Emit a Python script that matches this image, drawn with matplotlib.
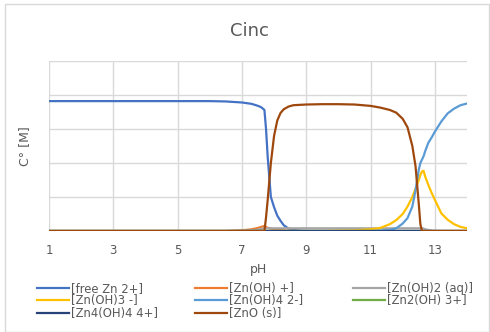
import matplotlib
matplotlib.use("Agg")
import matplotlib.pyplot as plt
from matplotlib.patches import Rectangle

# pH sample points (denser around the precipitation / dissolution edges)
ph = [1, 2, 3, 4, 5, 6, 6.5, 7, 7.3, 7.5, 7.6, 7.7, 7.75, 7.8, 7.9, 8.0, 8.1,
      8.2, 8.3, 8.45, 8.6, 8.8, 9, 9.5, 10, 10.5, 11, 11.3, 11.6, 11.8, 12.0,
      12.15, 12.3, 12.4, 12.5, 12.55, 12.6, 12.65, 12.7, 12.8, 12.9, 13.0,
      13.2, 13.4, 13.6, 13.8, 14.0]

free_zn = [3.82, 3.82, 3.82, 3.82, 3.82, 3.82, 3.81, 3.78, 3.74, 3.68, 3.64,
           3.56, 3.00, 2.20, 1.00, 0.70, 0.45, 0.30, 0.17, 0.07, 0.03, 0.01,
           0, 0, 0, 0, 0, 0, 0, 0, 0, 0, 0, 0, 0, 0, 0, 0, 0, 0, 0, 0, 0,
           0, 0, 0, 0]

zn_oh = [0, 0, 0, 0, 0, 0, 0, 0.02, 0.05, 0.09, 0.12, 0.15, 0.12, 0.09,
         0.07, 0.05, 0.04, 0.03, 0.02, 0.01, 0, 0, 0, 0, 0, 0, 0, 0, 0, 0,
         0, 0, 0, 0, 0, 0, 0, 0, 0, 0, 0, 0, 0, 0, 0, 0, 0]

zn_oh2 = [0, 0, 0, 0, 0, 0, 0, 0.01, 0.02, 0.04, 0.06, 0.08, 0.08, 0.08,
          0.08, 0.08, 0.08, 0.08, 0.08, 0.08, 0.08, 0.08, 0.08, 0.08, 0.08,
          0.08, 0.08, 0.08, 0.08, 0.08, 0.08, 0.08, 0.08, 0.08, 0.08, 0.08,
          0.08, 0.07, 0.05, 0.03, 0.01, 0, 0, 0, 0, 0, 0]

zn_oh3 = [0, 0, 0, 0, 0, 0, 0, 0, 0, 0, 0, 0, 0, 0, 0, 0, 0, 0, 0, 0, 0, 0,
          0, 0, 0.01, 0.02, 0.05, 0.09, 0.20, 0.32, 0.50, 0.72, 1.00, 1.25,
          1.50, 1.65, 1.75, 1.77, 1.60, 1.35, 1.12, 0.92, 0.52, 0.33, 0.20,
          0.12, 0.08]

zn_oh4 = [0, 0, 0, 0, 0, 0, 0, 0, 0, 0, 0, 0, 0, 0, 0, 0, 0, 0, 0, 0, 0, 0,
          0, 0, 0, 0, 0, 0.01, 0.03, 0.08, 0.22, 0.38, 0.72, 1.20, 1.80, 2.00,
          2.10, 2.20, 2.35, 2.60, 2.75, 2.92, 3.22, 3.46, 3.60, 3.70, 3.75]

zn2_oh = [0] * 47

zn4_oh4 = [0] * 47

zno_s = [0, 0, 0, 0, 0, 0, 0, 0, 0, 0, 0, 0, 0.4, 0.9, 2.0, 2.8, 3.25, 3.47,
         3.58, 3.66, 3.70, 3.71, 3.72, 3.73, 3.73, 3.72, 3.68, 3.63, 3.56,
         3.48, 3.30, 3.05, 2.50, 1.90, 0.80, 0.20, 0, 0, 0, 0, 0, 0, 0, 0, 0,
         0, 0]

labels = ["[free Zn 2+]", "[Zn(OH) +]", "[Zn(OH)2 (aq)]", "[Zn(OH)3 -]",
          "[Zn(OH)4 2-]", "[Zn2(OH) 3+]", "[Zn4(OH)4 4+]", "[ZnO (s)]"]
series = [free_zn, zn_oh, zn_oh2, zn_oh3, zn_oh4, zn2_oh, zn4_oh4, zno_s]
colors = ["#4472C4", "#ED7D31", "#A5A5A5", "#FFC000", "#5B9BD5", "#70AD47",
          "#264478", "#9E480E"]

txt = "#595959"
grid = "#D9D9D9"

fig = plt.figure(figsize=(4.9, 3.32), dpi=100)
fig.patches.append(Rectangle((5 / 490, 0), 484 / 490, 328 / 332,
                             transform=fig.transFigure, fill=False,
                             edgecolor=grid, linewidth=1))

ax = fig.add_axes([49 / 490, 101 / 332, 418 / 490, 170 / 332])
handles = []
for y, lab, c in zip(series, labels, colors):
    h, = ax.plot(ph, y, color=c, linewidth=1.6, label=lab,
                 solid_joinstyle="round")
    handles.append(h)

ax.set_xlim(1, 14)
ax.set_ylim(0, 5)
ax.set_xticks([1, 3, 5, 7, 9, 11, 13])
ax.set_yticks([0, 1, 2, 3, 4, 5])
ax.set_yticklabels([])
ax.grid(True, color=grid, linewidth=1)
ax.set_axisbelow(True)
for s in ax.spines.values():
    s.set_visible(False)
ax.tick_params(length=0, colors=txt, labelsize=8.5, pad=9)

ax.set_xlabel("pH", color=txt, fontsize=9, labelpad=5)
ax.set_ylabel("C° [M]", color=txt, fontsize=9, labelpad=4)
fig.text(249 / 490, 1 - 31 / 332, "Cinc", ha="center", va="center",
         color=txt, fontsize=13)

# legend laid out in three columns, filled row by row
cols = [[0, 3, 6], [1, 4, 7], [2, 5]]
xs = [37, 195, 353]
for idx, x0 in zip(cols, xs):
    leg = fig.legend([handles[i] for i in idx], [labels[i] for i in idx],
                     loc="upper left", bbox_to_anchor=(x0 / 490, 1 - 282 / 332),
                     frameon=False, fontsize=8.4, handlelength=2.7,
                     handletextpad=0.25, labelspacing=-0.05, borderpad=0,
                     borderaxespad=0)
    for t in leg.get_texts():
        t.set_color(txt)

fig.savefig("out.png", dpi=100)
